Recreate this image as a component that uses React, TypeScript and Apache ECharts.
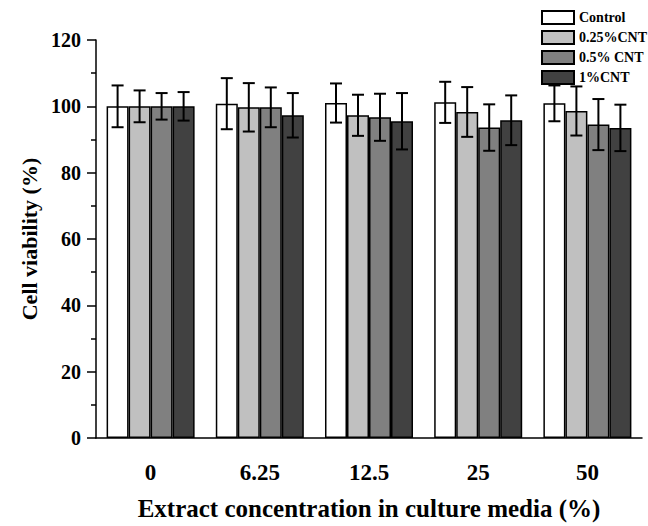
import React, { useEffect, useRef } from "react";
import * as echarts from "echarts";

const categories = ["0", "6.25", "12.5", "25", "50"];
const seriesNames = ["Control", "0.25%CNT", "0.5% CNT", "1%CNT"];
const colors = ["#ffffff", "#c0c0c0", "#808080", "#414141"];
const controlMean = [100, 100.8, 101, 101.2, 100.9];
const controlErr = [6.3, 7.7, 5.9, 6.2, 5.4];
const cnt025Mean = [100, 99.7, 97.3, 98.3, 98.6];
const cnt025Err = [4.8, 7.3, 6.2, 7.5, 7.4];
const cnt05Mean = [100, 99.7, 96.7, 93.6, 94.5];
const cnt05Err = [4.0, 6.0, 7.1, 7.0, 7.7];
const cnt1Mean = [100, 97.3, 95.5, 95.8, 93.5];
const cnt1Err = [4.3, 6.7, 8.5, 7.5, 7.0];

const means = [controlMean, cnt025Mean, cnt05Mean, cnt1Mean];
const errs = [controlErr, cnt025Err, cnt05Err, cnt1Err];

const FONT = "'Liberation Serif', 'Times New Roman', serif";
const GAP = 0.194;

export default function App() {
  const ref = useRef<HTMLDivElement>(null);
  useEffect(() => {
    if (!ref.current) return;
    const chart = echarts.init(ref.current, null, { renderer: "svg" });
    const barSeries = seriesNames.map((name, k) => ({
      name,
      type: "bar",
      data: means[k],
      barGap: "0%",
      barCategoryGap: GAP * 100 + "%",
      itemStyle: { color: colors[k], borderColor: "#000", borderWidth: 1.5 },
      z: 2,
    }));
    const errSeries = seriesNames.map((name, k) => ({
      name: name + " err",
      type: "custom",
      z: 5,
      data: means[k].map((m, i) => [i, m - errs[k][i], m + errs[k][i]]),
      renderItem: (params: any, api: any) => {
        const xi = api.value(0);
        const lo = api.value(1);
        const hi = api.value(2);
        const band = api.size([1, 0])[0];
        const groupW = band * (1 - GAP);
        const bw = groupW / 4;
        const base = api.coord([xi, lo]);
        const top = api.coord([xi, hi]);
        const cx = base[0] - groupW / 2 + bw * (k + 0.5);
        const cap = 6;
        const style = { stroke: "#000", lineWidth: 2 };
        return {
          type: "group",
          children: [
            { type: "line", shape: { x1: cx, y1: base[1], x2: cx, y2: top[1] }, style },
            { type: "line", shape: { x1: cx - cap, y1: base[1], x2: cx + cap, y2: base[1] }, style },
            { type: "line", shape: { x1: cx - cap, y1: top[1], x2: cx + cap, y2: top[1] }, style },
          ],
        };
      },
    }));
    chart.setOption({
      animation: false,
      backgroundColor: "#fff",
      grid: { left: 96, right: 6, top: 40, bottom: 86 },
      legend: {
        data: seriesNames,
        orient: "vertical",
        left: 541,
        top: 10,
        padding: 0,
        itemGap: 5,
        itemWidth: 32,
        itemHeight: 13,
        icon: "rect",
        textStyle: { fontFamily: FONT, fontSize: 14, fontWeight: "bold", color: "#000" },
      },
      xAxis: {
        type: "category",
        data: categories,
        axisLine: { lineStyle: { color: "#000", width: 1.5 } },
        axisTick: { alignWithLabel: true, length: 8, lineStyle: { color: "#000", width: 1.5 } },
        axisLabel: { fontFamily: FONT, fontSize: 23, fontWeight: "bold", color: "#000", margin: 23 },
        name: "Extract concentration in culture media (%)",
        nameLocation: "middle",
        nameGap: 58,
        nameTextStyle: { fontFamily: FONT, fontSize: 25, fontWeight: "bold", color: "#000" },
      },
      yAxis: {
        type: "value",
        min: 0,
        max: 120,
        interval: 20,
        splitLine: { show: false },
        axisLine: { show: true, lineStyle: { color: "#000", width: 1.5 } },
        axisTick: { show: true, length: 9, lineStyle: { color: "#000", width: 1.5 } },
        minorTick: { show: true, splitNumber: 2, length: 5, lineStyle: { color: "#000", width: 1.5 } },
        axisLabel: { fontFamily: FONT, fontSize: 20, fontWeight: "bold", color: "#000", margin: 15 },
        name: "Cell viability (%)",
        nameLocation: "middle",
        nameGap: 56,
        nameTextStyle: { fontFamily: FONT, fontSize: 22, fontWeight: "bold", color: "#000" },
      },
      series: [...barSeries, ...errSeries],
    });
    return () => chart.dispose();
  }, []);
  return <div ref={ref} style={{ width: 648, height: 526, position: "absolute", left: 0, top: 0 }} />;
}
